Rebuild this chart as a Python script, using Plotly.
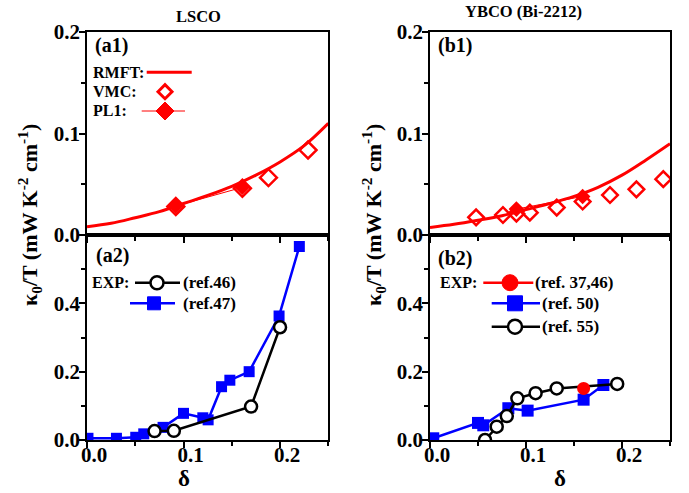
import plotly.graph_objects as go

# ---------------- data ----------------
# (a1) LSCO theory
rmft_lsco_delta = [0.0, 0.025, 0.05, 0.075, 0.1, 0.125, 0.15, 0.175, 0.2, 0.225, 0.25]
rmft_lsco_val = [0.0082, 0.0115, 0.017, 0.023, 0.031, 0.039, 0.048, 0.059, 0.072, 0.088, 0.110]
vmc_lsco_delta = [0.092, 0.161, 0.188, 0.229]
vmc_lsco_val = [0.028, 0.046, 0.0565, 0.0837]
pl1_lsco_delta = [0.092, 0.161]
pl1_lsco_val = [0.0285, 0.047]

# (b1) YBCO theory
rmft_ybco_delta = [0.0, 0.025, 0.05, 0.075, 0.1, 0.125, 0.15, 0.175, 0.2, 0.225, 0.25]
rmft_ybco_val = [0.0075, 0.0105, 0.0145, 0.019, 0.025, 0.031, 0.038, 0.047, 0.059, 0.074, 0.090]
vmc_ybco_delta = [0.048, 0.076, 0.090, 0.104, 0.132, 0.159, 0.1875, 0.215, 0.243]
vmc_ybco_val = [0.0174, 0.0197, 0.021, 0.022, 0.027, 0.033, 0.0394, 0.045, 0.055]
pl1_ybco_delta = [0.090, 0.159]
pl1_ybco_val = [0.0255, 0.038]

# (a2) LSCO experiment
ref47_delta = [0.001, 0.0305, 0.0505, 0.0588, 0.0788, 0.100, 0.120, 0.1255, 0.1394, 0.148, 0.168, 0.199, 0.220]
ref47_val = [0.005, 0.005, 0.008, 0.018, 0.037, 0.078, 0.065, 0.059, 0.156, 0.175, 0.200, 0.363, 0.566]
ref46_delta = [0.070, 0.090, 0.170, 0.200]
ref46_val = [0.026, 0.027, 0.098, 0.330]

# (b2) YBCO experiment
ref50_delta = [0.0034, 0.050, 0.0555, 0.0816, 0.1017, 0.160, 0.1806]
ref50_val = [0.005, 0.050, 0.043, 0.093, 0.086, 0.118, 0.161]
ref55_delta = [0.0573, 0.0695, 0.080, 0.091, 0.110, 0.132, 0.195]
ref55_val = [0.0, 0.039, 0.070, 0.122, 0.137, 0.151, 0.164]
ref3746_delta = [0.160]
ref3746_val = [0.151]

x_ticks = [0.0, 0.1, 0.2]
x_ticktext = ["0.0", "0.1", "0.2"]
y_top_ticks = [0.0, 0.1, 0.2]
y_top_text = ["0.0", "0.1", "0.2"]
y_bot_ticks = [0.0, 0.2, 0.4]
y_bot_text = ["0.0", "0.2", "0.4"]

RED = "#ff0000"
BLUE = "#0000ff"
BLACK = "#000000"
FONT = "Liberation Serif, Times New Roman, serif"
WEIGHT = "bold"

W, H = 689, 493
L, R, T, B = 87, 19, 32, 53
PW, PH = W - L - R, H - T - B


def px(xp):
    return (xp - L) / PW


def py(yp):
    return (H - B - yp) / PH


fig = go.Figure()

# ---- (a1)
fig.add_trace(go.Scatter(x=rmft_lsco_delta, y=rmft_lsco_val, mode="lines", line=dict(color=RED, width=3, shape="spline"),
                         xaxis="x", yaxis="y", showlegend=False))
fig.add_trace(go.Scatter(x=pl1_lsco_delta, y=pl1_lsco_val, mode="lines+markers", line=dict(color=RED, width=1),
                         marker=dict(symbol="diamond", size=12, color=RED), xaxis="x", yaxis="y", showlegend=False))
fig.add_trace(go.Scatter(x=vmc_lsco_delta, y=vmc_lsco_val, mode="markers",
                         marker=dict(symbol="diamond-open", size=13, color=RED, line=dict(width=2.5, color=RED)),
                         xaxis="x", yaxis="y", showlegend=False))

# ---- (a2)
fig.add_trace(go.Scatter(x=ref47_delta, y=ref47_val, mode="lines+markers", line=dict(color=BLUE, width=2.5),
                         marker=dict(symbol="square", size=11, color=BLUE), xaxis="x2", yaxis="y2", showlegend=False))
fig.add_trace(go.Scatter(x=ref46_delta, y=ref46_val, mode="lines+markers", line=dict(color=BLACK, width=2.5),
                         marker=dict(symbol="circle", size=12, color="white", line=dict(width=2.5, color=BLACK)),
                         xaxis="x2", yaxis="y2", showlegend=False))

# ---- (b1)
fig.add_trace(go.Scatter(x=rmft_ybco_delta, y=rmft_ybco_val, mode="lines", line=dict(color=RED, width=3, shape="spline"),
                         xaxis="x3", yaxis="y3", showlegend=False))
fig.add_trace(go.Scatter(x=pl1_ybco_delta, y=pl1_ybco_val, mode="lines+markers", line=dict(color=RED, width=1),
                         marker=dict(symbol="diamond", size=12, color=RED), xaxis="x3", yaxis="y3", showlegend=False))
fig.add_trace(go.Scatter(x=vmc_ybco_delta, y=vmc_ybco_val, mode="markers",
                         marker=dict(symbol="diamond-open", size=12, color=RED, line=dict(width=2.5, color=RED)),
                         xaxis="x3", yaxis="y3", showlegend=False))

# ---- (b2)
fig.add_trace(go.Scatter(x=ref50_delta, y=ref50_val, mode="lines+markers", line=dict(color=BLUE, width=2.5),
                         marker=dict(symbol="square", size=12, color=BLUE), xaxis="x4", yaxis="y4", showlegend=False))
fig.add_trace(go.Scatter(x=ref55_delta, y=ref55_val, mode="lines+markers", line=dict(color=BLACK, width=2.5),
                         marker=dict(symbol="circle", size=12, color="white", line=dict(width=2.5, color=BLACK)),
                         xaxis="x4", yaxis="y4", showlegend=False))
fig.add_trace(go.Scatter(x=ref3746_delta, y=ref3746_val, mode="markers",
                         marker=dict(symbol="circle", size=13, color=RED), xaxis="x4", yaxis="y4", showlegend=False))

xl = (0.0, px(328.3))
xr = (px(430), 1.0)
ytop = (py(235), 1.0)
ybot = (0.0, py(235))

tickfont = dict(family=FONT, size=21, color=BLACK, weight=WEIGHT)


def xaxis(domain, anchor, labels):
    return dict(domain=list(domain), anchor=anchor, range=[0, 0.25], showline=True, linecolor=BLACK, linewidth=1.5,
                mirror=True, ticks="outside", ticklen=6, tickwidth=1.5, tickcolor=BLACK,
                tickvals=x_ticks, ticktext=x_ticktext, showticklabels=labels, tickfont=tickfont,
                ticklabelstandoff=-11, ticklabelshift=7,
                minor=dict(dtick=0.05, tick0=0, ticks="outside", ticklen=4, tickwidth=1.5, tickcolor=BLACK),
                showgrid=False, zeroline=False)


def yaxis(domain, anchor, top):
    if top:
        rng, tv, tt, mv = [0, 0.2], y_top_ticks, y_top_text, [0.05, 0.15]
    else:
        rng, tv, tt, mv = [0, 0.6], y_bot_ticks, y_bot_text, [0.1, 0.3, 0.5]
    return dict(domain=list(domain), anchor=anchor, range=rng, showline=True, linecolor=BLACK, linewidth=1.5,
                mirror=True, ticks="outside", ticklen=6, tickwidth=1.5, tickcolor=BLACK,
                tickvals=tv, ticktext=tt, tickfont=tickfont, ticklabelstandoff=-5,
                minor=dict(tickvals=mv, ticks="outside", ticklen=4, tickwidth=1.5, tickcolor=BLACK),
                showgrid=False, zeroline=False)


annotations = []


def text(s, x, y, size, xanchor="left", angle=0):
    annotations.append(dict(text=s, x=px(x), y=py(y), xref="paper", yref="paper", showarrow=False,
                            xanchor=xanchor, yanchor="middle", textangle=angle,
                            font=dict(family=FONT, size=size, color=BLACK, weight=WEIGHT)))


text("LSCO", 198, 17, 16.5, "center")
text("YBCO (Bi-2212)", 523, 12, 16.5, "center")
text("(a1)", 93, 45, 20)
text("(b1)", 436, 45, 20)
text("(a2)", 94, 255, 20)
text("(b2)", 436, 258, 20)
text("RMFT:", 91, 72.3, 16)
text("VMC:", 91, 91.7, 16)
text("PL1:", 91, 111, 16)
text("EXP:", 90, 282.7, 16)
text("(ref.46)", 181, 282.7, 17)
text("(ref.47)", 181, 303.3, 17)
text("EXP:", 438, 282.7, 16)
text("(ref. 37,46)", 533, 282.7, 17)
text("(ref. 50)", 540, 303.3, 17)
text("(ref. 55)", 540, 326.7, 17)
text("δ", 184, 478, 23, "center")
text("δ", 560, 478, 23, "center")
ylab = "κ<sub>0</sub>/T (mW K<sup>-2</sup> cm<sup>-1</sup>)"
text(ylab, 30, 215, 22, "center", -90)
text(ylab, 374, 215, 22, "center", -90)

shapes = []


def hline(x0, x1, y, color, width):
    shapes.append(dict(type="line", xref="paper", yref="paper", x0=px(x0), x1=px(x1), y0=py(y), y1=py(y),
                       line=dict(color=color, width=width)))


def diamond(cx, cy, r, color, fill, width):
    path = "M {a},{b} L {c},{d} L {e},{f} L {g},{h} Z".format(
        a=px(cx - r), b=py(cy), c=px(cx), d=py(cy - r), e=px(cx + r), f=py(cy), g=px(cx), h=py(cy + r))
    shapes.append(dict(type="path", xref="paper", yref="paper", path=path, fillcolor=fill,
                       line=dict(color=color, width=width)))


def circle(cx, cy, r, color, fill, width):
    shapes.append(dict(type="circle", xref="paper", yref="paper", x0=px(cx - r), x1=px(cx + r),
                       y0=py(cy + r), y1=py(cy - r), fillcolor=fill, line=dict(color=color, width=width)))


def square(cx, cy, r, color):
    shapes.append(dict(type="rect", xref="paper", yref="paper", x0=px(cx - r), x1=px(cx + r),
                       y0=py(cy + r), y1=py(cy - r), fillcolor=color, line=dict(color=color, width=1)))


# legend keys (a1)
hline(146.7, 191.7, 72.3, RED, 3)
diamond(165, 91.7, 7, RED, "white", 3)
hline(141.7, 185, 111, RED, 1)
diamond(165, 111, 9, RED, RED, 1)
# legend keys (a2)
hline(135, 180, 282.7, BLACK, 2.5)
circle(157, 282.7, 6.5, BLACK, "white", 2.5)
hline(130, 175, 303.3, BLUE, 2.5)
square(154, 303.3, 6.5, BLUE)
# legend keys (b2)
hline(483.3, 533.3, 282.7, RED, 2.5)
circle(510, 282.7, 8, RED, RED, 1)
hline(491.7, 540, 303.3, BLUE, 2.5)
square(515, 303.3, 7.5, BLUE)
hline(491.7, 540, 326.7, BLACK, 2.5)
circle(515, 326.7, 7, BLACK, "white", 2.5)

fig.update_layout(
    width=W, height=H,
    margin=dict(l=L, r=R, t=T, b=B, autoexpand=False),
    paper_bgcolor="white", plot_bgcolor="white",
    font=dict(family=FONT, color=BLACK),
    showlegend=False,
    xaxis=xaxis(xl, "y", False),
    yaxis=yaxis(ytop, "x", True),
    xaxis2=xaxis(xl, "y2", True),
    yaxis2=yaxis(ybot, "x2", False),
    xaxis3=xaxis(xr, "y3", False),
    yaxis3=yaxis(ytop, "x3", True),
    xaxis4=xaxis(xr, "y4", True),
    yaxis4=yaxis(ybot, "x4", False),
    annotations=annotations,
    shapes=shapes,
)

fig.write_html("out.html")
